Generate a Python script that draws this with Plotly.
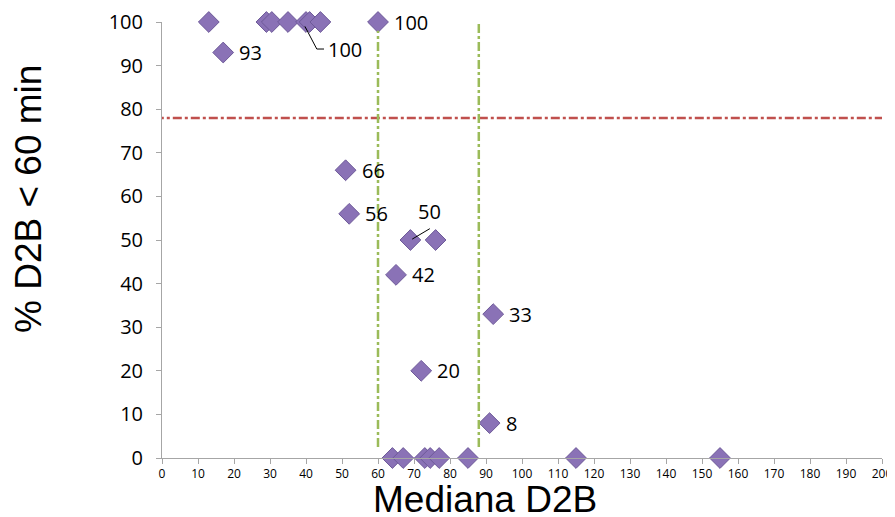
import plotly.graph_objects as go

# data
x_vals = [13, 29, 30.5, 35, 40, 41, 44, 60, 17, 51, 52, 69, 76, 65, 72, 92, 91,
          64, 67, 73, 74.5, 77, 85, 115, 155]
y_vals = [100, 100, 100, 100, 100, 100, 100, 100, 93, 66, 56, 50, 50, 42, 20, 33, 8,
          0, 0, 0, 0, 0, 0, 0, 0]

# labelled points (x, y, text)
label_x = [60, 17, 51, 52, 65, 72, 92, 91]
label_y = [100, 93, 66, 56, 42, 20, 33, 8]
label_txt = ["100", "93", "66", "56", "42", "20", "33", "8"]

target_y = 78
vline_x = [60, 88]

x_title = "Mediana D2B"
y_title = "% D2B < 60 min"

# layout geometry (page pixels; the page body adds an 8px offset)
OFF = 8
PL, PR, PT, PB = 162, 882, 22, 458
PW, PH = PR - PL, PB - PT


def px_to_paper(px, py):
    return (px - PL) / PW, (PB - py) / PH


fig = go.Figure()

fig.add_trace(go.Scatter(
    x=x_vals, y=y_vals, mode="markers",
    marker=dict(symbol="diamond", size=16, color="#8A72B6",
                line=dict(color="#6E5A99", width=1)),
    cliponaxis=False, showlegend=False, hoverinfo="x+y"))

lab_font = dict(family="Open Sans", size=20, color="#000")
annotations = []
for lx, ly, t in zip(label_x, label_y, label_txt):
    annotations.append(dict(x=lx, y=ly, xref="x", yref="y", text=t, showarrow=False,
                            xanchor="left", yanchor="middle", xshift=14, font=lab_font))
# leader-line labels
annotations.append(dict(x=45.5, y=93.8, xref="x", yref="y", text="100", showarrow=False,
                        xanchor="left", yanchor="middle", font=lab_font))
annotations.append(dict(x=74.4, y=56.6, xref="x", yref="y", text="50", showarrow=False,
                        xanchor="center", yanchor="middle", font=lab_font))
# axis titles
title_font = dict(family="Liberation Sans", size=37, color="#000")
xt = px_to_paper(485, 499)
yt = px_to_paper(29, 199)
annotations.append(dict(x=xt[0], y=xt[1], xref="paper", yref="paper",
                        text=x_title, showarrow=False, xanchor="center", yanchor="middle",
                        height=34, valign="middle", font=title_font))
annotations.append(dict(x=yt[0], y=yt[1], xref="paper", yref="paper",
                        text=y_title, showarrow=False, xanchor="center", yanchor="middle",
                        textangle=-90, font=title_font))

shapes = [
    dict(type="line", xref="x", yref="y", x0=-2, x1=200, y0=target_y, y1=target_y,
         line=dict(color="#C0504D", width=2.5, dash="dashdot")),
]
for vx, ytop in zip(vline_x, [98, 100]):
    shapes.append(dict(type="line", xref="x", yref="y", x0=vx, x1=vx, y0=2.5, y1=ytop,
                       line=dict(color="#9BBB59", width=2.5, dash="dashdot")))
shapes.append(dict(type="path", xref="x", yref="y",
                   path="M 39.7,99 L 43,93.8 L 45,93.8",
                   line=dict(color="#000", width=1)))
shapes.append(dict(type="line", xref="x", yref="y", x0=69.5, y0=50.2, x1=74.4, y1=52.6,
                   line=dict(color="#000", width=1)))

fig.update_layout(
    width=895 - OFF, height=517 - OFF,
    margin=dict(l=PL - OFF, r=895 - PR, t=PT - OFF, b=517 - PB, autoexpand=False),
    paper_bgcolor="white", plot_bgcolor="white",
    annotations=annotations, shapes=shapes,
    xaxis=dict(range=[0, 200], dtick=10, tick0=0, showgrid=False, zeroline=False,
               automargin=False,
               showline=True, linecolor="#A6A6A6", linewidth=1,
               ticks="outside", ticklen=5, tickcolor="#A6A6A6",
               tickfont=dict(family="Open Sans", size=12, color="#000")),
    yaxis=dict(range=[0, 100], dtick=10, tick0=0, showgrid=False, zeroline=False,
               automargin=False, ticklabelstandoff=9,
               showline=True, linecolor="#A6A6A6", linewidth=1,
               ticks="outside", ticklen=5, tickcolor="#A6A6A6",
               tickfont=dict(family="Open Sans", size=20, color="#000")),
)

fig.write_html("out.html")
